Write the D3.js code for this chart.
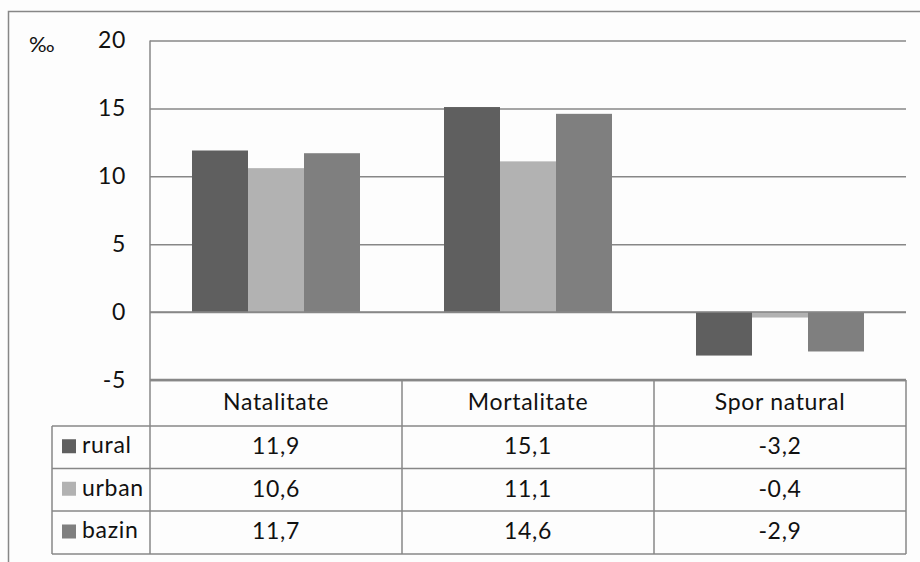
<!DOCTYPE html>
<html>
<head>
<meta charset="utf-8">
<script src="https://cdn.jsdelivr.net/npm/d3@7"></script>
<style>
  html, body { margin: 0; padding: 0; background: #fdfdfd; }
  svg { display: block; }
  text { font-family: Lato, "Open Sans", sans-serif; fill: #111; letter-spacing: 0.7px; }
</style>
</head>
<body>
<svg id="chart" width="920" height="562"></svg>
<script>
// Indicatori demografici (‰) pe medii de rezidență
const categories = ["Natalitate", "Mortalitate", "Spor natural"];
const series = ["rural", "urban", "bazin"];
const rural = [11.9, 15.1, -3.2];
const urban = [10.6, 11.1, -0.4];
const bazin = [11.7, 14.6, -2.9];
const yTicks = [-5, 0, 5, 10, 15, 20];
const unitLabel = "‰";
const seriesColors = ["#5f5f5f", "#b2b2b2", "#7f7f7f"];

const valuesBySeries = { rural, urban, bazin };
const fmt = v => String(v).replace(".", ",");

const svg = d3.select("#chart");
const W = 920, H = 562;
const plot = { left: 150, right: 906, top: 40.5, bottom: 380 };
const tableLeft = 52;
const rowEdges = [380, 426, 468.5, 511, 554];
const lineColor = "#878787";

// outer chart frame
svg.append("rect")
  .attr("x", 8.5).attr("y", 11.5)
  .attr("width", W + 20).attr("height", H + 20)
  .attr("fill", "#fdfdfd").attr("stroke", lineColor).attr("stroke-width", 1.5);

const x0 = d3.scaleBand().domain(categories).range([plot.left, plot.right]);
const x1 = d3.scaleBand().domain(series).range([0, x0.bandwidth()]).paddingOuter(0.75);
const y = d3.scaleLinear().domain([-5, 20]).range([plot.bottom, plot.top]);
const color = d3.scaleOrdinal().domain(series).range(seriesColors);

// horizontal gridlines + tick labels
const yAxis = d3.axisLeft(y)
  .tickValues(yTicks)
  .tickSize(-(plot.right - plot.left))
  .tickPadding(24)
  .tickFormat(d => d);
const gy = svg.append("g")
  .attr("transform", `translate(${plot.left},0)`)
  .call(yAxis);
gy.select(".domain").remove();
gy.selectAll(".tick line").attr("stroke", lineColor).attr("stroke-width", 1.5);
gy.selectAll(".tick text")
  .style("font-size", "23px")
  .attr("fill", "#111");

// unit label
svg.append("text")
  .attr("x", 29).attr("y", 46)
  .attr("dominant-baseline", "middle")
  .style("font-size", "22px")
  .style("letter-spacing", "0px")
  .text(unitLabel);

// bars
const groups = svg.append("g").selectAll("g")
  .data(categories)
  .join("g")
  .attr("transform", d => `translate(${x0(d)},0)`);
groups.selectAll("rect")
  .data((c, i) => series.map(s => ({ s, v: valuesBySeries[s][i] })))
  .join("rect")
  .attr("x", d => x1(d.s))
  .attr("width", x1.bandwidth())
  .attr("y", d => y(Math.max(0, d.v)))
  .attr("height", d => Math.abs(y(d.v) - y(0)))
  .attr("fill", d => color(d.s));

// zero line redrawn over bars
svg.append("line")
  .attr("x1", plot.left).attr("x2", plot.right)
  .attr("y1", y(0)).attr("y2", y(0))
  .attr("stroke", lineColor).attr("stroke-width", 1.5);

// vertical axis line
svg.append("line")
  .attr("x1", plot.left).attr("x2", plot.left)
  .attr("y1", plot.top).attr("y2", rowEdges[rowEdges.length - 1])
  .attr("stroke", lineColor).attr("stroke-width", 1.5);

// data table
const tbl = svg.append("g");
// header row top and column dividers
tbl.append("line")
  .attr("x1", plot.left).attr("x2", plot.right)
  .attr("y1", rowEdges[0]).attr("y2", rowEdges[0])
  .attr("stroke", lineColor).attr("stroke-width", 2.5);
rowEdges.slice(1).forEach(yy => {
  tbl.append("line")
    .attr("x1", tableLeft).attr("x2", plot.right)
    .attr("y1", yy).attr("y2", yy)
    .attr("stroke", lineColor).attr("stroke-width", 1.5);
});
tbl.append("line")
  .attr("x1", tableLeft).attr("x2", tableLeft)
  .attr("y1", rowEdges[1]).attr("y2", rowEdges[rowEdges.length - 1])
  .attr("stroke", lineColor).attr("stroke-width", 1.5);
categories.forEach(c => {
  const xr = x0(c) + x0.bandwidth();
  tbl.append("line")
    .attr("x1", xr).attr("x2", xr)
    .attr("y1", rowEdges[0]).attr("y2", rowEdges[rowEdges.length - 1])
    .attr("stroke", lineColor).attr("stroke-width", 1.5);
});

// header labels
tbl.selectAll("text.head")
  .data(categories)
  .join("text")
  .attr("class", "head")
  .attr("x", d => x0(d) + x0.bandwidth() / 2)
  .attr("y", (rowEdges[0] + rowEdges[1]) / 2 + 1)
  .attr("text-anchor", "middle")
  .attr("dominant-baseline", "middle")
  .style("font-size", "23px")
  .text(d => d);

// series rows: legend key, name, values
series.forEach((s, r) => {
  const cy = (rowEdges[r + 1] + rowEdges[r + 2]) / 2;
  tbl.append("rect")
    .attr("x", 62).attr("y", cy - 8)
    .attr("width", 14).attr("height", 14)
    .attr("fill", color(s));
  tbl.append("text")
    .attr("x", 82).attr("y", cy)
    .attr("dominant-baseline", "middle")
    .style("font-size", "23px")
    .text(s);
  tbl.selectAll(null)
    .data(valuesBySeries[s])
    .join("text")
    .attr("x", (d, i) => x0(categories[i]) + x0.bandwidth() / 2)
    .attr("y", cy + 1)
    .attr("text-anchor", "middle")
    .attr("dominant-baseline", "middle")
    .style("font-size", "23px")
    .text(d => fmt(d));
});
</script>
</body>
</html>
